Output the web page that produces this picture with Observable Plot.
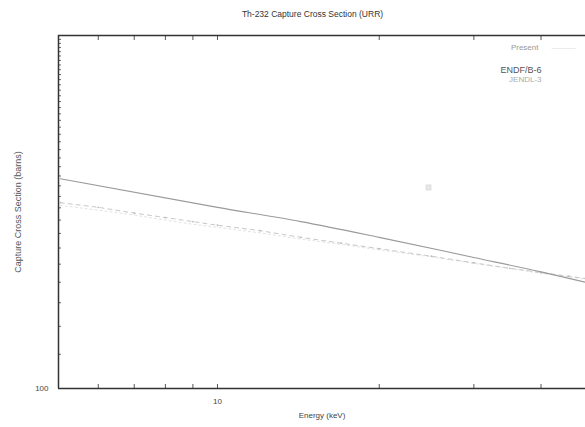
<!DOCTYPE html>
<html><head><meta charset="utf-8">
<script src="https://cdn.jsdelivr.net/npm/d3@7"></script>
<script src="https://cdn.jsdelivr.net/npm/@observablehq/plot@0.6"></script>
<style>
body{margin:0;background:#fff;font-family:"Liberation Sans",Arial,sans-serif;}
#title{height:24px;line-height:28px;text-align:center;font-size:8.5px;color:#333;padding-left:40px;}
</style></head><body>
<div id="title">Th-232 Capture Cross Section (URR)</div>
<div id="chart"></div>
<script>
const energy = [5.1, 10, 14.3, 20, 30, 40, 48.4];
const present = [393, 326, 297, 268, 235, 214, 200];
const endfEnergy = [5.1, 6, 7, 8, 9, 10, 12, 14.3, 17, 20, 25, 30, 35, 40, 45, 48.4];
const endf = [336, 326, 314, 305, 297, 290, 280, 268, 258, 249, 237, 227, 219, 213, 208, 205];
const jendl = [330, 320, 310, 300, 292, 286, 276, 265, 256, 247, 236, 226, 219, 212, 207, 204];
const expEnergy = [24.7];
const expValue = [371];
const legendNames = ["Present", "ENDF/B-6", "JENDL-3"];
const xTicks = [6, 7, 8, 9, 10, 20, 30, 40];
const yTicks = d3.range(100, 1001, 25);

const presentData = energy.map((e, i) => ({e, v: present[i]}));
const endfData = endfEnergy.map((e, i) => ({e, v: endf[i]}));
const jendlData = endfEnergy.map((e, i) => ({e, v: jendl[i]}));
const expData = expEnergy.map((e, i) => ({e, v: expValue[i]}));

const chart = Plot.plot({
  width: 585, height: 403,
  marginLeft: 58, marginRight: 0, marginTop: 11, marginBottom: 39,
  style: {fontFamily: "Liberation Sans, Arial, sans-serif", fontSize: "8px", color: "#444", background: "#fff"},
  x: {type: "log", domain: [5.06, 48.4]},
  y: {type: "log", domain: [100, 1000]},
  marks: [
    Plot.axisX({ticks: [10], tickSize: 0, tickPadding: 10, tickFormat: d => String(d), label: "Energy (keV)", labelAnchor: "center", labelArrow: "none", labelOffset: 29, fill: "#444"}),
    Plot.axisX({ticks: xTicks, tickSize: -4, tickFormat: () => "", label: null, stroke: "#555"}),
    Plot.axisX({anchor: "top", ticks: xTicks, tickSize: -4, tickFormat: () => "", label: null, stroke: "#555"}),
    Plot.axisY({ticks: [100], tickSize: 0, tickPadding: 10, tickFormat: d => String(d), label: null, fill: "#444"}),
    Plot.axisY({ticks: yTicks, tickSize: -3, tickFormat: () => "", label: null, stroke: "#666"}),
    Plot.text(["Capture Cross Section (barns)"], {frameAnchor: "left", textAnchor: "middle", dx: -40, dy: 0, rotate: -90, text: d => d, fill: "#555", fontSize: 9}),
    Plot.ruleX([5.06], {stroke: "#333", strokeWidth: 1.5}),
    Plot.ruleY([100], {stroke: "#333", strokeWidth: 1.5}),
    Plot.ruleY([1000], {stroke: "#333", strokeWidth: 1.5}),
    Plot.line(jendlData, {x: "e", y: "v", stroke: "#e2e2e2", strokeWidth: 1, strokeDasharray: "2,3"}),
    Plot.line(endfData, {x: "e", y: "v", stroke: "#c8c8c8", strokeWidth: 1, strokeDasharray: "4,4"}),
    Plot.dot(endfData, {x: "e", y: "v", r: 0.9, fill: "#bbb"}),
    Plot.line(presentData, {x: "e", y: "v", curve: "monotone-x", stroke: "#9a9a9a", strokeWidth: 1.1}),
    Plot.dot(expData, {x: "e", y: "v", symbol: "square", r: 2.5, fill: "#e8e8e8", stroke: "#e0e0e0"}),
    Plot.text([legendNames[0]], {frameAnchor: "top-right", dx: -47, dy: 9, text: d => d, fill: "#999", fontSize: 8}),
    Plot.text(["———"], {frameAnchor: "top-right", dx: -10, dy: 9, text: d => d, fill: "#ddd", fontSize: 8}),
    Plot.text([legendNames[1]], {frameAnchor: "top-right", dx: -44, dy: 31, text: d => d, fill: "#555", fontSize: 9}),
    Plot.text([legendNames[2]], {frameAnchor: "top-right", dx: -44, dy: 41, text: d => d, fill: "#aaa", fontSize: 8}),
  ]
});
document.getElementById("chart").appendChild(chart);
</script>
</body></html>
